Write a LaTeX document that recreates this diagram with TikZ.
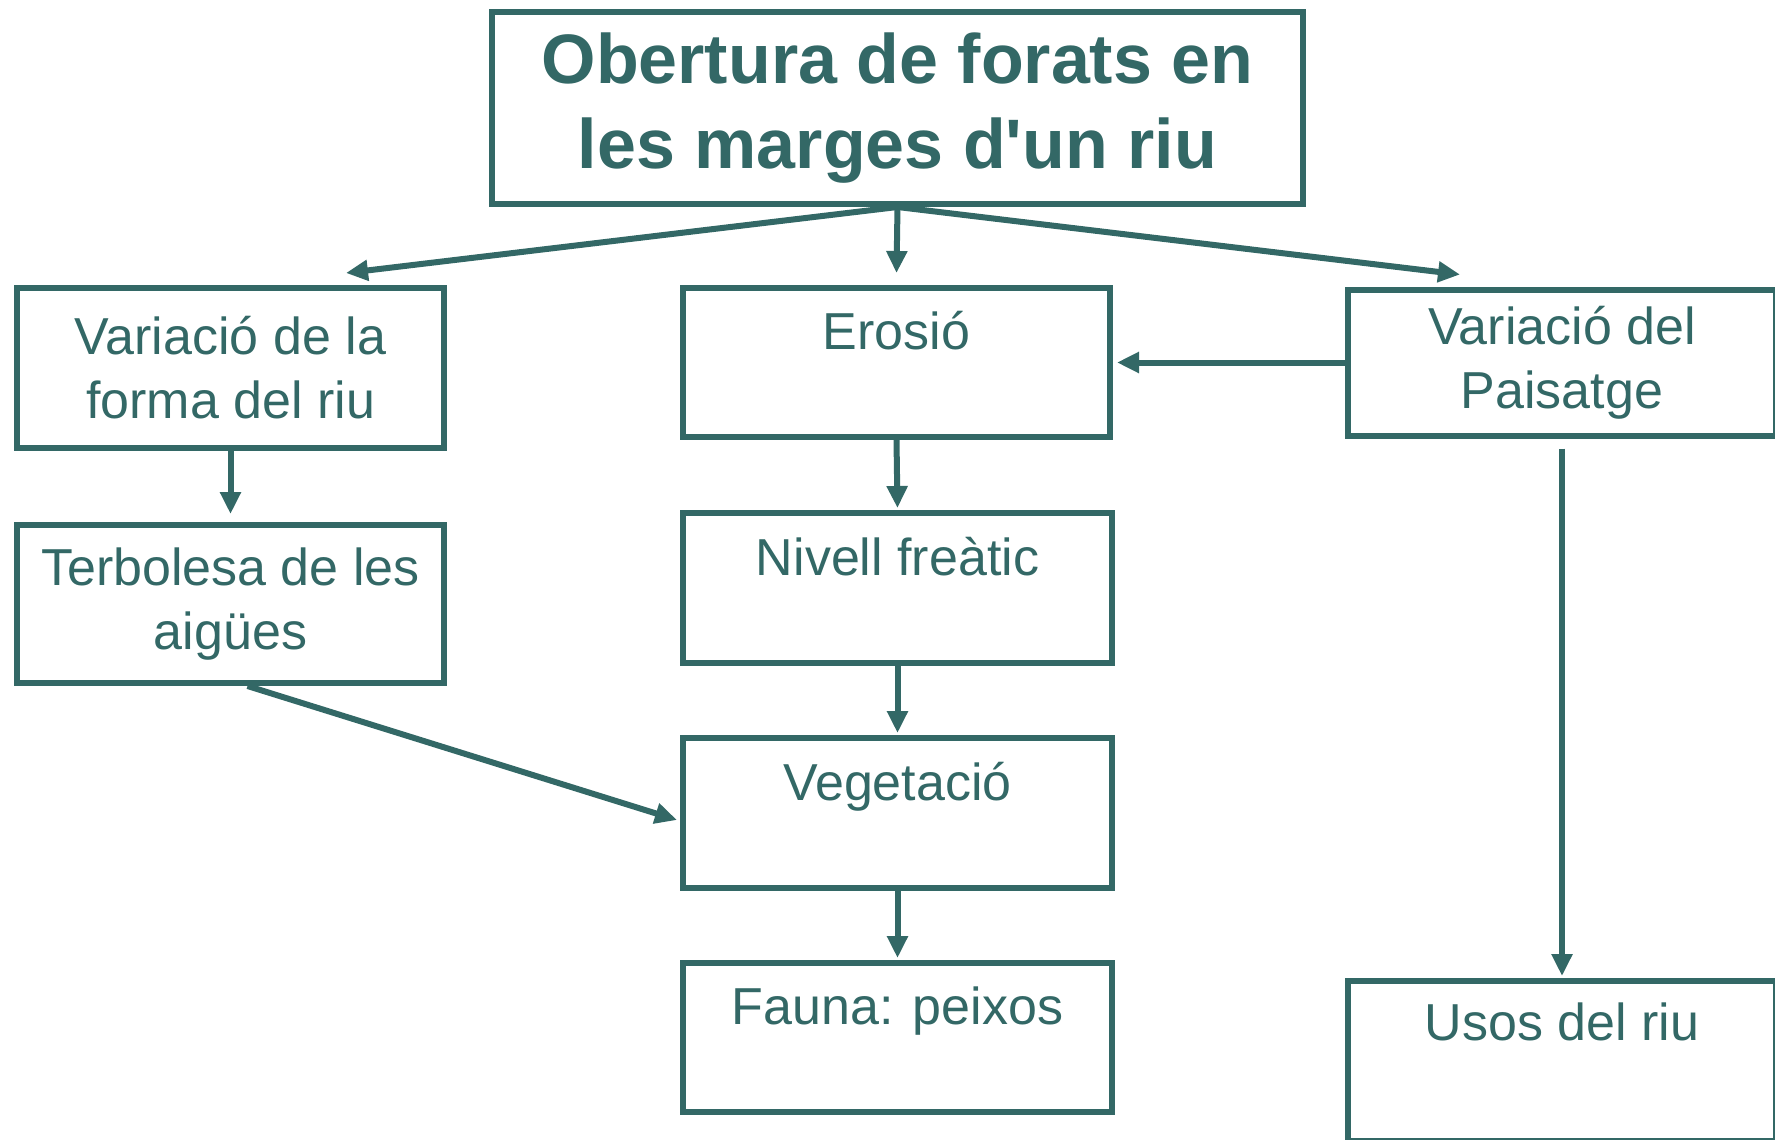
\documentclass[tikz,border=0pt]{standalone}
\usepackage{fontspec}
\setmainfont{Liberation Sans}
\usepackage{xcolor}
\usepackage{tikz}
\usetikzlibrary{arrows.meta,calc}

\definecolor{riu}{RGB}{51,104,102}

\begin{document}
\begin{tikzpicture}[x=1pt,y=-1pt]
		\tikzstyle{box}=[draw=riu, line width=6pt, text=riu, align=center, inner sep=0pt, minimum width=427pt, font=\fontsize{52}{64}\selectfont]
		\tikzstyle{box_title}=[box, minimum width=811pt, minimum height=192pt, font=\fontsize{70}{85}\selectfont\bfseries]
		\tikzstyle{link}=[draw=riu, line width=6pt, -{Triangle[length=22pt,width=20pt]}]

		\useasboundingbox (0,0) rectangle (1775,1140);

		\node [box_title] (title) at (897.5,108) {Obertura de forats en\\les marges d\textquotesingle un riu};

		% left column
		\node [box, minimum height=160pt] (forma) at (230.5,368) {Variació de la\\forma del riu};
		\node [box, minimum height=158pt] (terbolesa) at (230.5,604) {Terbolesa de les\\aigües};

		% middle column
		\node [box, minimum height=149pt] (erosio) at (896.5,362.5) {Erosió\\\mbox{}};
		\node [box, minimum width=429pt, minimum height=150pt] (nivell) at (897.5,588) {Nivell freàtic\\\mbox{}};
		\node [box, minimum width=429pt, minimum height=150pt] (vegetacio) at (897.5,813) {Vegetació\\\mbox{}};
		\node [box, minimum width=429pt, minimum height=149pt] (fauna) at (897.5,1037.5) {Fauna: peixos\\\mbox{}};

		% right column (cut by the page edge)
		\node [box, minimum width=428pt, minimum height=146pt] (paisatge) at (1562,362.5) {Variació del\\Paisatge};
		\node [box, minimum width=428pt, minimum height=160pt] (usos) at (1562,1061) {Usos del riu\\[14pt]\mbox{}};

		\draw [link] (title.south) -- ($(forma.north west)+(332,-12)$);
		\draw [link] (title.south) -- ($(erosio.north)+(0,-12)$);
		\draw [link] (title.south) -- ($(paisatge.north west)+(115,-12)$);
		\draw [link] (paisatge.west) -- ($(erosio.east)+(4,0)$);
		\draw [link, shorten >=8pt] (forma.south) -- (terbolesa.north);
		\draw [link, shorten >=2pt] (erosio.south) -- (nivell.north);
		\draw [link, shorten >=2pt] (nivell.south) -- (vegetacio.north);
		\draw [link, shorten >=2pt] (vegetacio.south) -- (fauna.north);
		\draw [link] ($(terbolesa.south)+(17,0)$) -- ($(vegetacio.west)+(-3,7)$);
		\draw [link, shorten <=10pt, shorten >=2pt] (paisatge.south) -- (usos.north);

	\end{tikzpicture}
\end{document}
